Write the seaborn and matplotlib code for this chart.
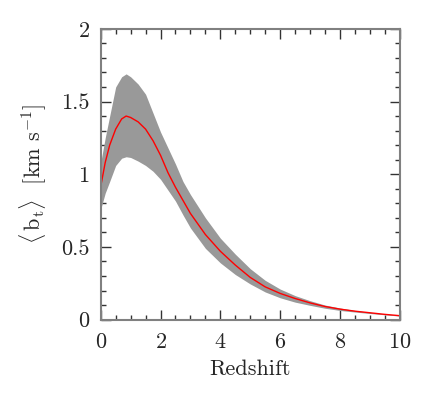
import seaborn as sns
import matplotlib.pyplot as plt
import pandas as pd

sns.set_style("ticks")
plt.rcParams['font.family'] = ['cmr10', 'DejaVu Serif']
plt.rcParams['mathtext.fontset'] = 'cm'
plt.rcParams['axes.formatter.use_mathtext'] = True

# values
redshift = [0, 0.15, 0.3, 0.5, 0.7, 0.85, 1.0, 1.25, 1.5, 1.75, 2.0, 2.25, 2.5, 2.75,
            3.0, 3.5, 4.0, 4.5, 5.0, 5.5, 6.0, 6.5, 7.0, 7.5, 8.0, 8.5, 9.0, 9.5, 10.0]
bt_mean = [0.915, 1.08, 1.20, 1.31, 1.38, 1.40, 1.39, 1.36, 1.31, 1.23, 1.13, 1.01, 0.91, 0.82,
           0.73, 0.585, 0.47, 0.375, 0.29, 0.225, 0.18, 0.145, 0.115, 0.09, 0.072, 0.058, 0.047, 0.036, 0.027]
bt_upper = [1.08, 1.25, 1.40, 1.60, 1.67, 1.69, 1.67, 1.62, 1.55, 1.42, 1.29, 1.18, 1.07, 0.95,
            0.86, 0.70, 0.56, 0.45, 0.35, 0.27, 0.21, 0.165, 0.13, 0.10, 0.08, 0.063, 0.05, 0.039, 0.03]
bt_lower = [0.76, 0.87, 0.95, 1.06, 1.11, 1.12, 1.115, 1.09, 1.06, 1.02, 0.965, 0.89, 0.815, 0.72,
            0.63, 0.49, 0.39, 0.31, 0.245, 0.19, 0.15, 0.12, 0.098, 0.078, 0.063, 0.052, 0.042, 0.033, 0.024]

df = pd.DataFrame({'z': redshift, 'mean': bt_mean, 'lo': bt_lower, 'hi': bt_upper})

fig = plt.figure(figsize=(4.36, 4.0), dpi=100)
ax = fig.add_axes([0.231, 0.201, 0.686, 0.727])

ax.fill_between(df['z'], df['lo'], df['hi'], color='#999999', linewidth=0)
sns.lineplot(data=df, x='z', y='mean', ax=ax, color='red', linewidth=1.0)

ax.set_xlim(0, 10)
ax.set_ylim(0, 2)
ax.set_xticks([0, 2, 4, 6, 8, 10])
ax.set_xticks([i * 0.5 for i in range(21)], minor=True)
ax.set_yticks([0, 0.5, 1, 1.5, 2])
ax.set_yticklabels(['0', '0.5', '1', '1.5', '2'])
ax.set_yticks([i * 0.1 for i in range(21)], minor=True)

ax.tick_params(which='both', direction='in', top=True, right=True, color='#333333',
               labelsize=16, width=1.0)
ax.tick_params(axis='x', pad=9)
ax.tick_params(axis='y', pad=8)
ax.tick_params(which='major', length=7)
ax.tick_params(which='minor', length=3.5)
for s in ax.spines.values():
    s.set_color('#808080')
    s.set_linewidth(1.5)

ax.set_xlabel('Redshift', fontsize=16, labelpad=6)
ax.set_ylabel(r'$\langle\,\mathrm{b_t}\rangle$  [km s$^{-1}$]', fontsize=16, labelpad=9)

fig.savefig('out.png', dpi=100)
